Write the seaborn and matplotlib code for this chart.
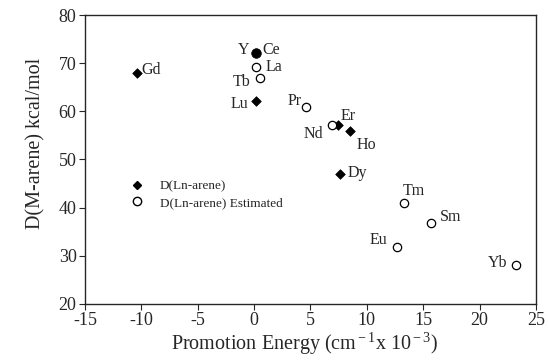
import matplotlib
matplotlib.use("Agg")
import matplotlib.pyplot as plt
import seaborn as sns
import pandas as pd
from matplotlib.lines import Line2D

# Data
meas_labels = ["Gd", "Lu", "Er", "Ho", "Dy"]
meas_x = [-10.4, 0.2, 7.4, 8.5, 7.6]
meas_y = [68.0, 62.1, 57.1, 55.9, 46.9]

yce_labels = ["Y", "Ce"]
yce_x = [0.2]
yce_y = [72.1]

est_labels = ["La", "Tb", "Pr", "Nd", "Tm", "Sm", "Eu", "Yb"]
est_x = [0.2, 0.5, 4.6, 6.9, 13.3, 15.7, 12.7, 23.2]
est_y = [69.2, 67.0, 61.0, 57.1, 40.9, 36.9, 31.9, 28.1]

legend_labels = ["D(Ln-arene)", "D(Ln-arene) Estimated"]

sns.set_style("ticks")
plt.rcParams["font.family"] = ["Liberation Serif", "DejaVu Serif"]
plt.rcParams["mathtext.fontset"] = "custom"
plt.rcParams["mathtext.rm"] = "Liberation Serif"
plt.rcParams["mathtext.it"] = "Liberation Serif:italic"
plt.rcParams["axes.unicode_minus"] = False

fig = plt.figure(figsize=(5.48, 3.6), dpi=100)
ax = fig.add_axes([0.155, 0.156, 0.823, 0.802])

df_m = pd.DataFrame({"x": meas_x, "y": meas_y})
df_c = pd.DataFrame({"x": yce_x, "y": yce_y})
df_e = pd.DataFrame({"x": est_x, "y": est_y})

sns.scatterplot(data=df_m, x="x", y="y", marker="D", s=24, color="black",
                edgecolor="black", linewidth=0.5, ax=ax, legend=False)
sns.scatterplot(data=df_c, x="x", y="y", marker="o", s=48, color="black",
                edgecolor="black", linewidth=0.5, ax=ax, legend=False)
sns.scatterplot(data=df_e, x="x", y="y", marker="o", s=36, facecolor="white",
                edgecolor="black", linewidth=0.9, ax=ax, legend=False)

fs = 11.5
# offsets in points (style)
meas_off = {"Gd": (3, 2, "left"), "Lu": (-6, -2, "right"), "Er": (2, 7, "left"),
            "Ho": (5, -10, "left"), "Dy": (6, 1, "left")}
for lab, x, y in zip(meas_labels, meas_x, meas_y):
    dx, dy, ha = meas_off[lab]
    ax.annotate(lab, (x, y), xytext=(dx, dy), textcoords="offset points",
                ha=ha, va="center", fontsize=fs)
ax.annotate(yce_labels[0], (yce_x[0], yce_y[0]), xytext=(-5, 2), textcoords="offset points",
            ha="right", va="center", fontsize=fs)
ax.annotate(yce_labels[1], (yce_x[0], yce_y[0]), xytext=(4, 2), textcoords="offset points",
            ha="left", va="center", fontsize=fs)
est_off = {"La": (7, 0, "left"), "Tb": (-7, -3, "right"), "Pr": (-3, 4, "right"),
           "Nd": (-6, -6, "right"), "Tm": (-1, 9, "left"), "Sm": (6, 4, "left"),
           "Eu": (-7, 5, "right"), "Yb": (-6, 1, "right")}
for lab, x, y in zip(est_labels, est_x, est_y):
    dx, dy, ha = est_off[lab]
    ax.annotate(lab, (x, y), xytext=(dx, dy), textcoords="offset points",
                ha=ha, va="center", fontsize=fs)

ax.set_xlim(-15, 25)
ax.set_ylim(20, 80)
ax.set_xticks(range(-15, 26, 5))
ax.set_yticks(range(20, 81, 10))
ax.tick_params(direction="out", length=4, width=0.8, labelsize=13, top=False, right=False,
               pad=2)
for sp in ax.spines.values():
    sp.set_linewidth(1.0)
    sp.set_visible(True)

ax.set_xlabel(r"Promotion Energy (cm$^{\rm -1}$x 10$^{\rm -3}$)", fontsize=14.5)
ax.set_ylabel("D(M-arene) kcal/mol", fontsize=14.5)
ax.xaxis.set_label_coords(0.487, -0.092)
ax.yaxis.set_label_coords(-0.088, 0.555)

handles = [
    Line2D([], [], marker="D", color="black", linestyle="none", markersize=4.5),
    Line2D([], [], marker="o", markerfacecolor="white", markeredgecolor="black",
           linestyle="none", markersize=6),
]
ax.legend(handles, legend_labels, loc="upper left", bbox_to_anchor=(0.06, 0.47),
          frameon=False, fontsize=9.5, handletextpad=0.7, labelspacing=0.35)

fig.savefig("out.png", dpi=100)
